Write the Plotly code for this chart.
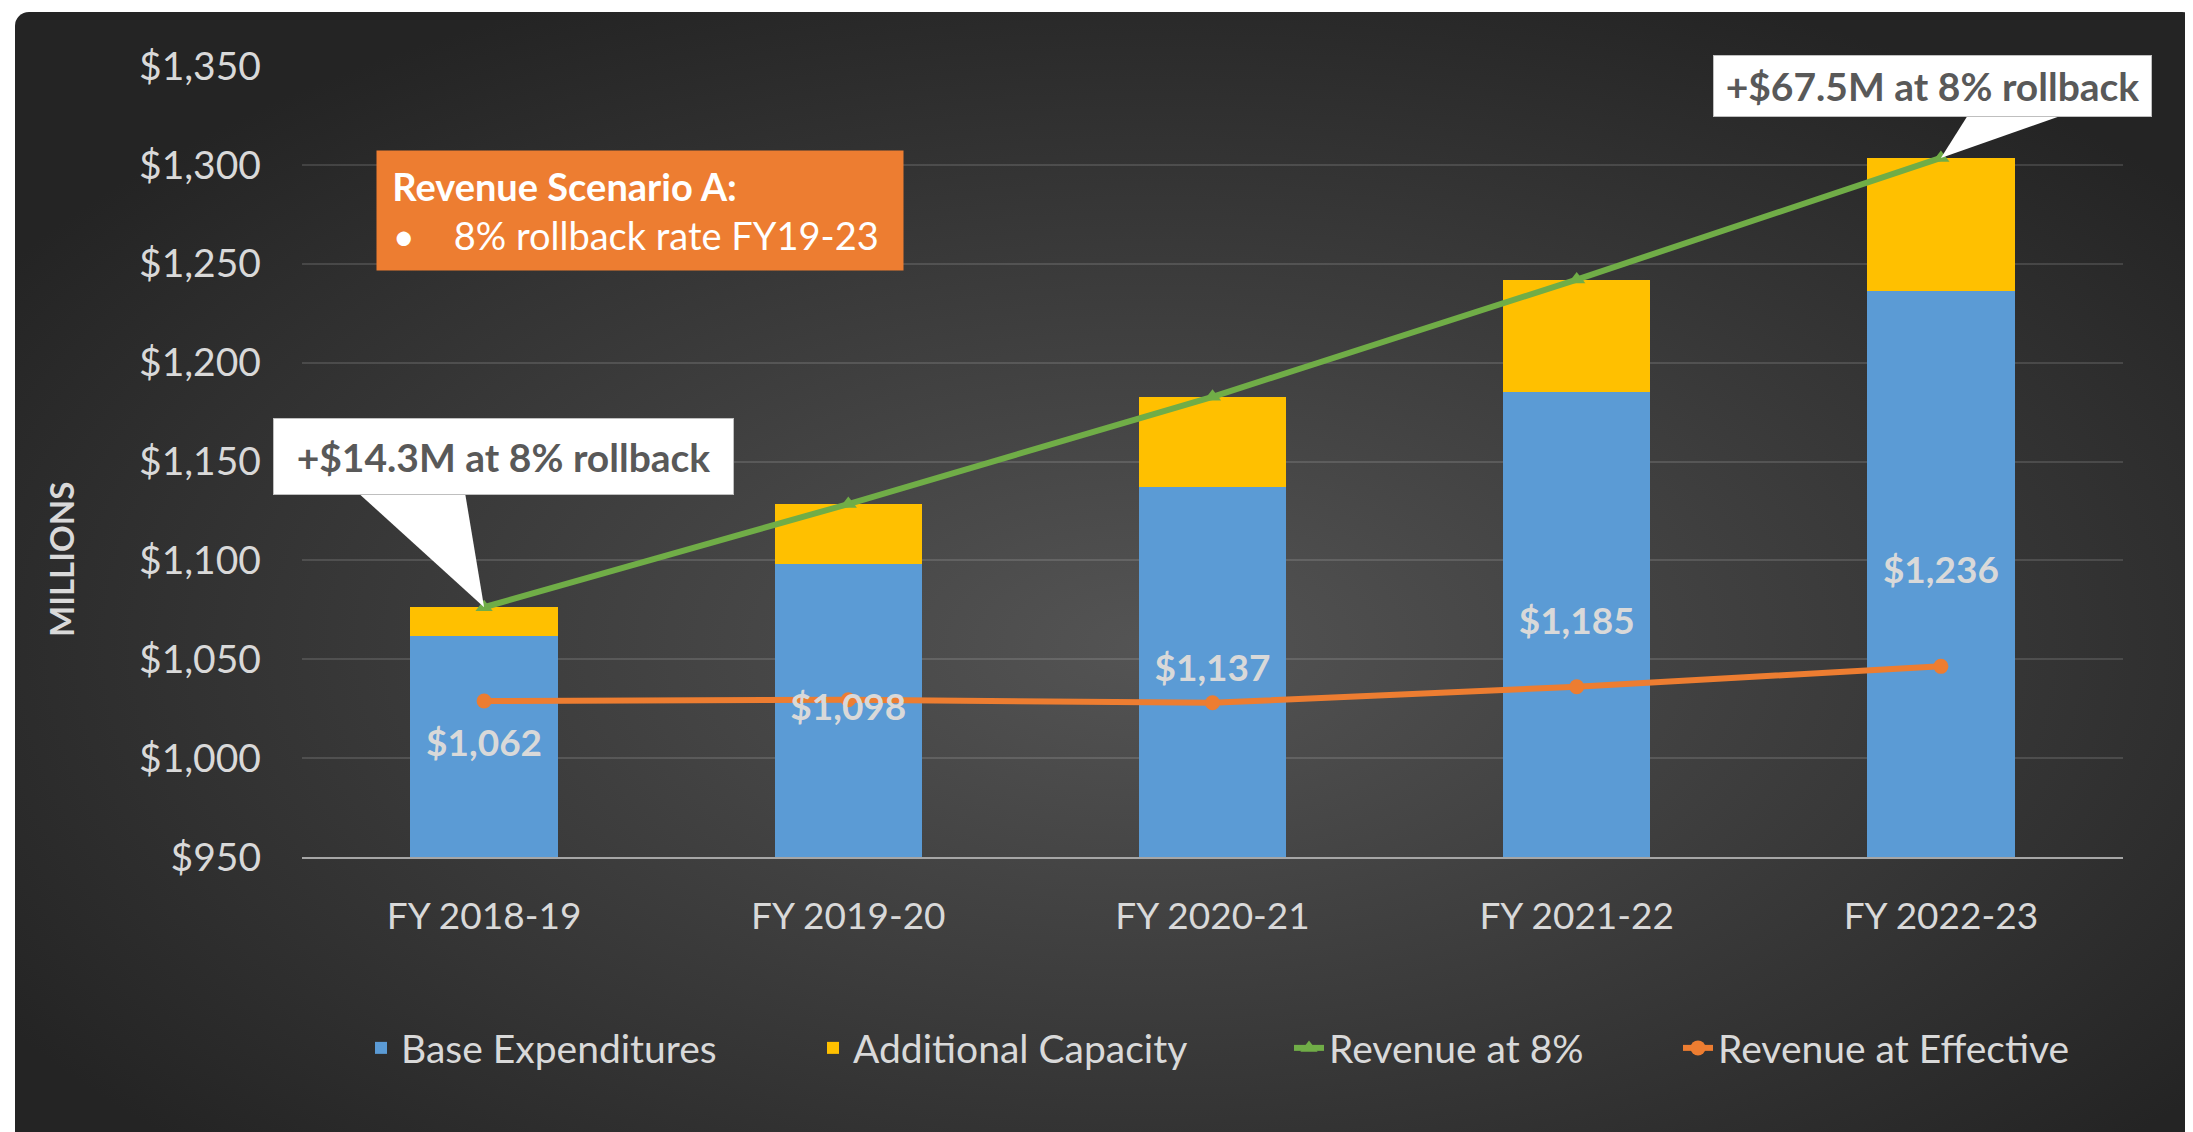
import base64
import plotly.graph_objects as go

# fiscal years on the x axis
years = ["FY 2018-19", "FY 2019-20", "FY 2020-21", "FY 2021-22", "FY 2022-23"]

# $ millions
base_exp = [1062, 1098, 1137, 1185, 1236]
add_capacity = [14.3, 30.5, 45.7, 57.0, 67.5]
rev_8pct = [1076.3, 1128.5, 1182.7, 1242.0, 1303.5]
rev_effective = [1028.9, 1029.5, 1028.0, 1036.1, 1046.4]

Y_MIN, Y_MAX = 950, 1350

W, H = 2193, 1132
ML, MR, MT, MB = 294, 78, 58, 283
PW, PH = W - ML - MR, H - MT - MB

FONT = "Lato"
LIGHT = "#D9D9D9"

# dark radial background, like the slide
svg = f"""<svg xmlns="http://www.w3.org/2000/svg" width="{W}" height="{H}">
<defs><radialGradient id="g" cx="0.52" cy="0.55" r="0.62">
<stop offset="0" stop-color="#545454"/><stop offset="1" stop-color="#242424"/>
</radialGradient></defs>
<rect width="{W}" height="{H}" fill="#ffffff"/>
<rect x="7" y="4" width="{W - 12}" height="{H + 20}" rx="14" fill="url(#g)"/>
</svg>"""
bg_src = "data:image/svg+xml;base64," + base64.b64encode(svg.encode()).decode()

fig = go.Figure()

fig.add_trace(go.Bar(
    x=years, y=base_exp, name="Base Expenditures", legend="legend",
    marker=dict(color="#5B9BD5", line=dict(width=0)),
))
fig.add_trace(go.Bar(
    x=years, y=add_capacity, name="Additional Capacity", legend="legend2",
    marker=dict(color="#FFC000", line=dict(width=0)),
))
fig.add_trace(go.Scatter(
    x=years, y=rev_8pct, name="Revenue at 8%", mode="lines+markers", legend="legend3",
    line=dict(color="#70AD47", width=6),
    marker=dict(symbol="triangle-up", size=15, color="#70AD47"),
))
fig.add_trace(go.Scatter(
    x=years, y=rev_effective, name="Revenue at Effective", mode="lines+markers",
    legend="legend4",
    line=dict(color="#ED7D31", width=6),
    marker=dict(symbol="circle", size=15, color="#ED7D31"),
))
# base expenditure labels, centred on the visible part of each blue bar
fig.add_trace(go.Scatter(
    x=years, y=[(Y_MIN + v) / 2 for v in base_exp],
    text=[f"${v:,.0f}" for v in base_exp], mode="text",
    textfont=dict(family=FONT, size=37, color=LIGHT, weight="bold"),
    showlegend=False, hoverinfo="skip",
))

# callout wedges (data coords; x in category index units)
fig.add_shape(type="path", xref="x", yref="y", layer="above",
              path=f"M -0.357 1136 L -0.054 1136 L 0 {rev_8pct[0]} Z",
              fillcolor="white", line=dict(width=0))
fig.add_shape(type="path", xref="x", yref="y", layer="above",
              path=f"M 4.084 1328 L 4.379 1328 L 4 {rev_8pct[4]} Z",
              fillcolor="white", line=dict(width=0))

callout_font = dict(family=FONT, size=39, color="#595959", weight="bold")
fig.add_annotation(x=0.052, y=1152.4, xref="x", yref="y", showarrow=False,
                   text="+$14.3M at 8% rollback", font=callout_font,
                   bgcolor="white", bordercolor="#BFBFBF", borderwidth=1,
                   width=459, height=75, borderpad=0)
fig.add_annotation(x=3.977, y=1340, xref="x", yref="y", showarrow=False,
                   text="+$67.5M at 8% rollback", font=callout_font,
                   bgcolor="white", bordercolor="#BFBFBF", borderwidth=1,
                   width=437, height=60, borderpad=0)

# scenario box
fig.add_annotation(x=0.428, y=1276.7, xref="x", yref="y", showarrow=False,
                   text="<b>\u00a0Revenue Scenario A:</b><br>"
                        "\u00a0\u2022\u00a0\u00a0\u00a0\u00a08% rollback rate FY19-23",
                   align="left", font=dict(family=FONT, size=38, color="white"),
                   bgcolor="#ED7D31", width=514, height=107, borderpad=6)

# y axis title
fig.add_annotation(x=(53 - ML) / PW, y=(PH - (552 - MT)) / PH, xref="paper", yref="paper",
                   xanchor="center", yanchor="middle",
                   text="<b>MILLIONS</b>", textangle=-90, showarrow=False,
                   font=dict(family=FONT, size=33, color=LIGHT))

fig.add_layout_image(dict(
    source=bg_src, xref="paper", yref="paper",
    x=-ML / PW, y=1 + MT / PH, sizex=W / PW, sizey=H / PH,
    xanchor="left", yanchor="top", sizing="stretch", layer="below",
))

# one legend per entry so each sits where the original puts it
legend_font = dict(family=FONT, size=39, color=LIGHT)
legend_left = [353, 805, 1281, 1670]
legends = {}
for i, px in enumerate(legend_left):
    key = "legend" if i == 0 else f"legend{i + 1}"
    legends[key] = dict(orientation="h", x=(px - ML) / PW, xanchor="left",
                        y=-0.2415, yanchor="middle", font=legend_font,
                        bgcolor="rgba(0,0,0,0)")

fig.update_layout(
    width=W, height=H,
    margin=dict(l=ML, r=MR, t=MT, b=MB),
    barmode="stack", bargap=0.595,
    paper_bgcolor="#2e2e2e", plot_bgcolor="rgba(0,0,0,0)",
    font=dict(family=FONT, color=LIGHT),
    showlegend=True,
    **legends,
    xaxis=dict(type="category", range=[-0.5, 4.5], showgrid=False,
               showline=True, linecolor="#A6A6A6", linewidth=2,
               tickfont=dict(family=FONT, size=37, color=LIGHT), ticklabelstandoff=26),
    yaxis=dict(range=[Y_MIN, Y_MAX], dtick=50, tickprefix="$", tickformat=",",
               showgrid=True, gridcolor="rgba(255,255,255,0.13)", gridwidth=2,
               zeroline=False, showline=False,
               tickfont=dict(family=FONT, size=39, color=LIGHT), ticklabelstandoff=40),
)

fig.write_html("out.html")
